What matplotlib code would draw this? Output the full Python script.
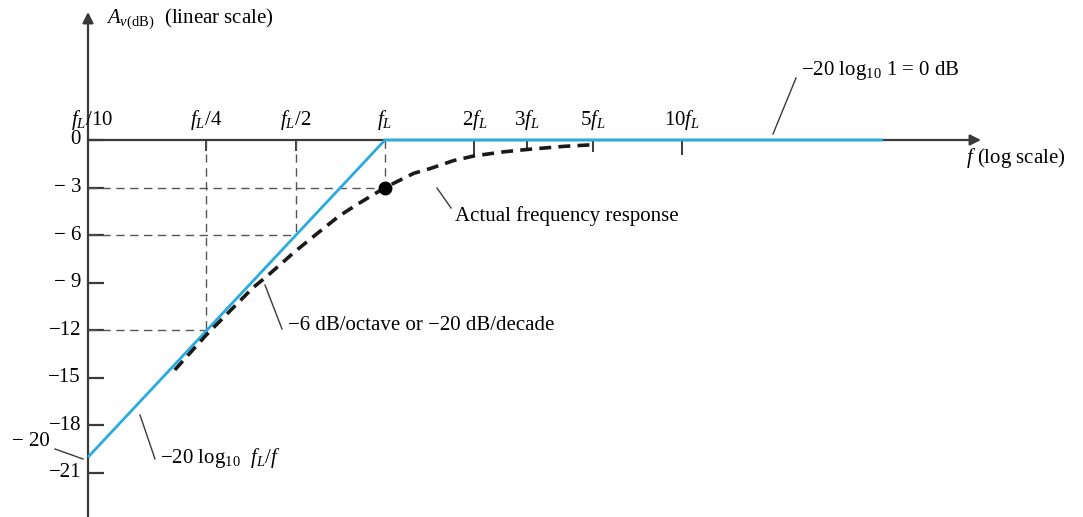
import matplotlib
matplotlib.use("Agg")
import matplotlib.pyplot as plt
import numpy as np

# ---------------- data ----------------
# frequency in units of fL
asym_f = [0.1, 1.0, 47.5]
asym_db = [-20.0, 0.0, 0.0]

actual_f = [0.196, 0.25, 0.3, 0.36, 0.4, 0.5, 0.6, 0.7, 0.8, 1.0, 1.25, 1.42, 1.7, 2.0, 2.5, 3.0, 4.0, 5.0]
actual_db = [-14.5, -12.3, -10.8, -9.3, -8.6, -7.0, -5.8, -4.8, -4.1, -3.0, -2.1, -1.8, -1.3, -1.0, -0.75, -0.6, -0.4, -0.3]

y_ticks = [0, -3, -6, -9, -12, -15, -18, -21]
y_tick_labels = ["0", "− 3", "− 6", "− 9", "−12", "−15", "−18", "−21"]

x_ticks = [0.1, 0.25, 0.5, 1, 2, 3, 5, 10]
x_tick_labels = [r"$f_L$/10", r"$f_L$/4", r"$f_L$/2", r"$f_L$", r"2$f_L$", r"3$f_L$", r"5$f_L$", r"10$f_L$"]

guide_f = [0.25, 0.5, 1.0]
guide_db = [-12, -6, -3]

# ---------------- style ----------------
plt.rcParams['font.family'] = ['Liberation Serif', 'DejaVu Serif']
plt.rcParams['mathtext.fontset'] = 'custom'
plt.rcParams['mathtext.rm'] = 'Liberation Serif'
plt.rcParams['mathtext.it'] = 'Liberation Serif:italic'
plt.rcParams['mathtext.bf'] = 'Liberation Serif:bold'

W, H = 1083, 517
fig = plt.figure(figsize=(W / 100, H / 100), dpi=100)
ax = fig.add_axes([0, 0, 1, 1])
ax.set_xscale('log')

X0, DEC = 88.0, 297.0     # pixel of fL/10, pixels per decade
Y0, DB = 140.0, 15.857    # pixel of 0 dB, pixels per dB


def px(x):
    return 0.1 * 10 ** ((x - X0) / DEC)


def py(y):
    return -(y - Y0) / DB


ax.set_xlim(px(0), px(W))
ax.set_ylim(py(H), py(0))
ax.axis('off')

axis_col = '#3a3a3a'
blue = '#29ABE2'
FS = 15

# axes with arrows
ax.annotate('', xy=(0.1, py(12)), xytext=(0.1, py(H)),
            arrowprops=dict(arrowstyle='-|>', color=axis_col, lw=1.6,
                            mutation_scale=16, shrinkA=0, shrinkB=0))
ax.annotate('', xy=(px(981), 0), xytext=(0.1, 0),
            arrowprops=dict(arrowstyle='-|>', color=axis_col, lw=1.6,
                            mutation_scale=16, shrinkA=0, shrinkB=0))

# y ticks
for v, lab in zip(y_ticks, y_tick_labels):
    ax.plot([0.1, px(104)], [v, v], color=axis_col, lw=1.6, solid_capstyle='butt')
    ax.text(px(81), v, lab, ha='right', va='center', fontsize=FS)

# x tick labels (above axis)
for f, lab in zip(x_ticks, x_tick_labels):
    xpos = px(X0 + 4) if f == 0.1 else f
    ax.text(xpos, py(120), lab, ha='center', va='center', fontsize=FS)

# small tick marks below axis
tick_len = {0.25: 151, 0.5: 151, 2: 157, 3: 151, 5: 152, 10: 155}
for f, yb in tick_len.items():
    ax.plot([f, f], [0, py(yb)], color=axis_col, lw=1.4, solid_capstyle='butt')

# dashed guide lines
for f, d in zip(guide_f, guide_db):
    ax.plot([0.1, f], [d, d], color='#555555', lw=1.0, dashes=(6, 4))
    ax.plot([f, f], [0, d], color='#555555', lw=1.0, dashes=(6, 4))

# asymptote
ax.plot(asym_f, asym_db, color=blue, lw=2.0, zorder=4, solid_capstyle='butt')

# actual response
ax.plot(actual_f, actual_db, color='#1a1a1a', lw=2.6, dashes=(3.3, 2.0), zorder=5)
ax.plot([1.0], [-3.0], 'o', color='black', ms=9, zorder=6)

# annotations (leader lines + text)
def leader(x1, y1, x2, y2):
    ax.plot([px(x1), px(x2)], [py(y1), py(y2)], color=axis_col, lw=1.0)

leader(773, 134, 796, 78)
ax.text(px(801), py(71), r"−20 log$_{10}$ 1 = 0 dB", ha='left', va='center', fontsize=FS)

leader(437, 188, 451, 208)
ax.text(px(455), py(216), "Actual frequency response", ha='left', va='center', fontsize=FS)

leader(265, 285, 282, 329)
ax.text(px(288), py(326), "−6 dB/octave or −20 dB/decade", ha='left', va='center', fontsize=FS)

leader(140, 415, 155, 459)
ax.text(px(160), py(458), r"−20 log$_{10}$  $f_L/f$", ha='left', va='center', fontsize=FS)

leader(55, 449, 83, 459)
ax.text(px(50), py(442), "− 20", ha='right', va='center', fontsize=FS)

ax.text(px(106), py(19), r"$A_{v\mathrm{(dB)}}$  (linear scale)", ha='left', va='center', fontsize=FS)
ax.text(px(966), py(158), r"$f$ (log scale)", ha='left', va='center', fontsize=FS)

fig.savefig("out.png", dpi=100)
